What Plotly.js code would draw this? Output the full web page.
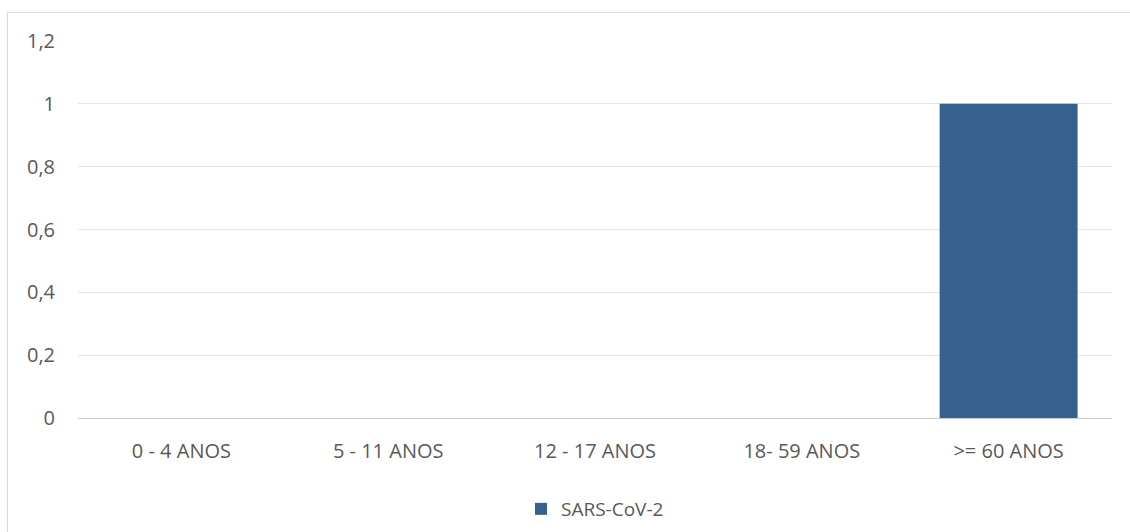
<!DOCTYPE html>
<html>
<head>
<meta charset="utf-8">
<script src="https://cdn.plot.ly/plotly-3.0.1.min.js"></script>
<style>html,body{margin:0;padding:0;background:#fff;}#chart{width:1130px;height:532px;}</style>
</head>
<body>
<div id="chart"></div>
<script>
var categories = ["0 - 4 ANOS", "5 - 11 ANOS", "12 - 17 ANOS", "18- 59 ANOS", ">= 60 ANOS"];
var seriesName = "SARS-CoV-2";
var values = [0, 0, 0, 0, 1];
var yTickVals = [0, 0.2, 0.4, 0.6, 0.8, 1, 1.2];
var yTickText = ["0", "0,2", "0,4", "0,6", "0,8", "1", "1,2"];

var W = 1130, H = 532, ml = 78, mr = 18, mt = 41, mb = 114;
var pw = W - ml - mr, ph = H - mt - mb;
function px(x){ return (x - ml) / pw; }
function py(y){ return (H - mb - y) / ph; }

var FONT = "Open Sans, Noto Sans, sans-serif";
var data = [{
  type: "bar",
  x: categories,
  y: values,
  name: seriesName,
  marker: {color: "#36618F"},
  showlegend: true,
  hoverinfo: "x+y"
}];

var layout = {
  width: W, height: H,
  margin: {l: ml, r: mr, t: mt, b: mb, pad: 0, autoexpand: false},
  paper_bgcolor: "#ffffff",
  plot_bgcolor: "#ffffff",
  font: {family: FONT, size: 20, color: "#595959"},
  bargap: 0.333,
  xaxis: {
    type: "category",
    showgrid: false,
    showline: true,
    linecolor: "#cccccc",
    linewidth: 1,
    ticks: "",
    tickfont: {family: FONT, size: 20, color: "#595959"},
    ticklabelstandoff: 15,
    zeroline: false
  },
  yaxis: {
    range: [0, 1.2],
    tickvals: yTickVals,
    ticktext: yTickText,
    showgrid: true,
    gridcolor: "#e6e6e6",
    gridwidth: 1,
    zeroline: false,
    showline: false,
    ticks: "",
    ticklabelstandoff: 22,
    tickfont: {family: FONT, size: 20, color: "#595959"}
  },
  legend: {
    orientation: "h",
    x: 0.5, xanchor: "center",
    y: py(509), yanchor: "middle",
    font: {family: FONT, size: 19, color: "#595959"},
    itemwidth: 30,
    bgcolor: "rgba(0,0,0,0)"
  },
  shapes: [{
    type: "rect", xref: "paper", yref: "paper",
    x0: px(7.5), x1: px(1140), y0: py(12.5), y1: py(545),
    line: {color: "#d9d9d9", width: 1},
    fillcolor: "rgba(0,0,0,0)",
    layer: "below"
  }]
};

Plotly.newPlot("chart", data, layout, {displayModeBar: false, staticPlot: true});
</script>
</body>
</html>
